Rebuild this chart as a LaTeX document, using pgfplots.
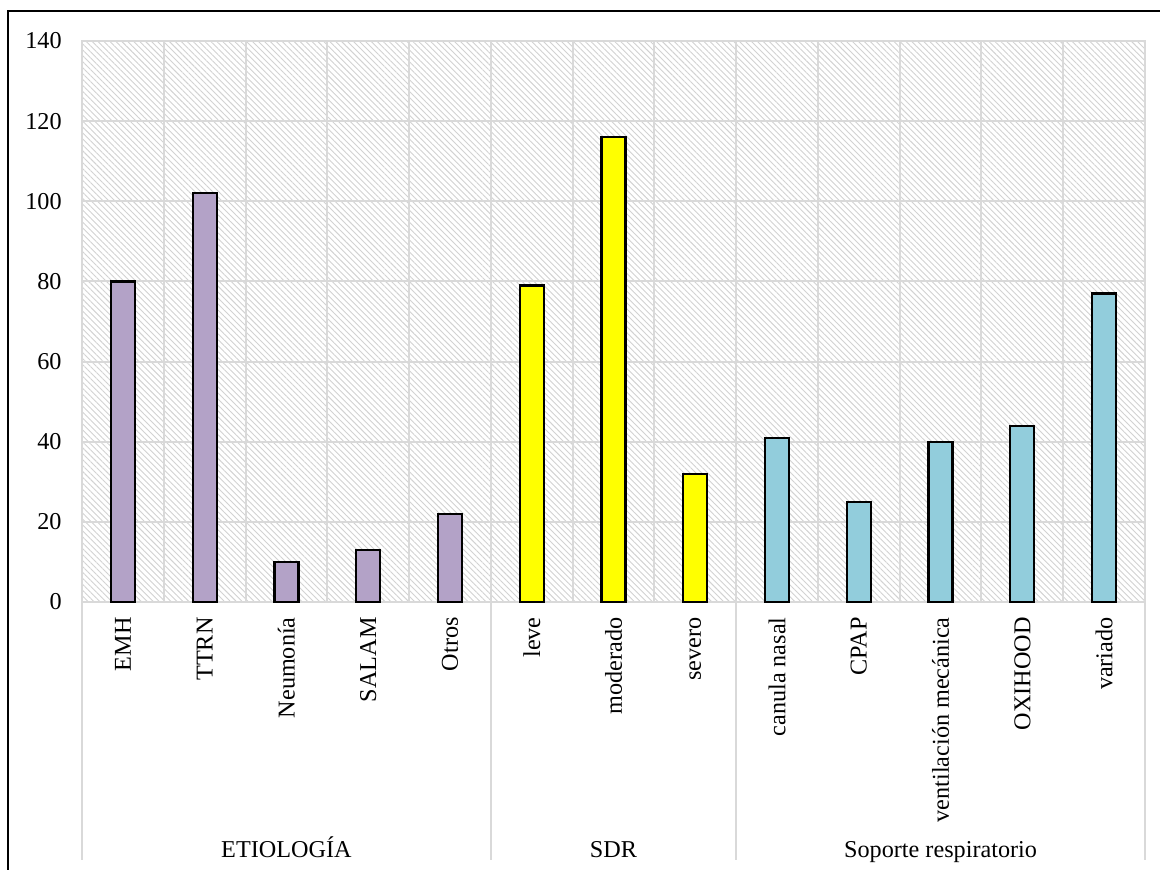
\documentclass[border=0pt]{standalone}
\usepackage{fontspec}
\setmainfont{Liberation Serif}
\usepackage{pgfplots}
\pgfplotsset{compat=1.18}
\usetikzlibrary{patterns.meta}
\definecolor{gridgray}{HTML}{D9D9D9}
\definecolor{hatchgray}{HTML}{D2D2D2}
\definecolor{etio}{HTML}{B3A2C7}
\definecolor{sdr}{HTML}{FFFF00}
\definecolor{soporte}{HTML}{92CDDC}
\newcommand{\chartfont}{\fontsize{12.1}{14.5}\selectfont}
\begin{document}
\begin{tikzpicture}
\begin{axis}[
  at={(41pt,-301pt)}, anchor=south west,
  scale only axis, width=531.5pt, height=280.5pt,
  xmin=-0.5, xmax=12.5, ymin=0, ymax=140,
  ytick={0,20,...,140},
  xtick={0,...,12},
  xticklabels={EMH,TTRN,Neumonía,SALAM,Otros,leve,moderado,severo,canula nasal,CPAP,ventilación mecánica,OXIHOOD,variado},
  minor xtick={-0.5,0.5,...,12.5},
  ymajorgrids, xminorgrids,
  grid style={gridgray, line width=1pt},
  major tick length=0pt, minor tick length=0pt,
  axis line style={gridgray, line width=1pt},
  axis background/.style={fill=white, postaction={pattern={Lines[angle=-45,distance=2.1pt,line width=0.45pt]}, pattern color=hatchgray}},
  /pgf/number format/assume math mode=true,
  tick label style={font=\chartfont},
  yticklabel style={anchor=east, inner sep=0pt},
  yticklabel shift=10pt,
  xticklabel style={rotate=90, anchor=east, inner sep=0pt},
  xticklabel shift=7.5pt,
  clip=false,
]
\addplot[ybar, bar shift=0pt, bar width=12pt, fill=etio, draw=black, line width=1.1pt]
  coordinates {(0,80) (1,102) (2,10) (3,13) (4,22)};
\addplot[ybar, bar shift=0pt, bar width=12pt, fill=sdr, draw=black, line width=1.1pt]
  coordinates {(5,79) (6,116) (7,32)};
\addplot[ybar, bar shift=0pt, bar width=12pt, fill=soporte, draw=black, line width=1.1pt]
  coordinates {(8,41) (9,25) (10,40) (11,44) (12,77)};
% group separators below the category axis
\pgfplotsinvokeforeach{-0.5,4.5,7.5,12.5}{
  \draw[gridgray, line width=1pt] (axis cs:#1,0) -- ++(0pt,-129pt);
}
\node[anchor=base, font=\chartfont] at ([yshift=-127.5pt]axis cs:2,0) {ETIOLOGÍA};
\node[anchor=base, font=\chartfont] at ([yshift=-127.5pt]axis cs:6,0) {SDR};
\node[anchor=base, font=\chartfont] at ([yshift=-127.5pt]axis cs:10,0) {Soporte respiratorio};
\end{axis}
% chart border
\draw[black, line width=1pt] (4pt,-445pt) -- (4pt,-5.5pt) -- (590pt,-5.5pt);
\pgfresetboundingbox
\path[use as bounding box] (0,0) rectangle (580pt,-435pt);
\end{tikzpicture}
\end{document}
